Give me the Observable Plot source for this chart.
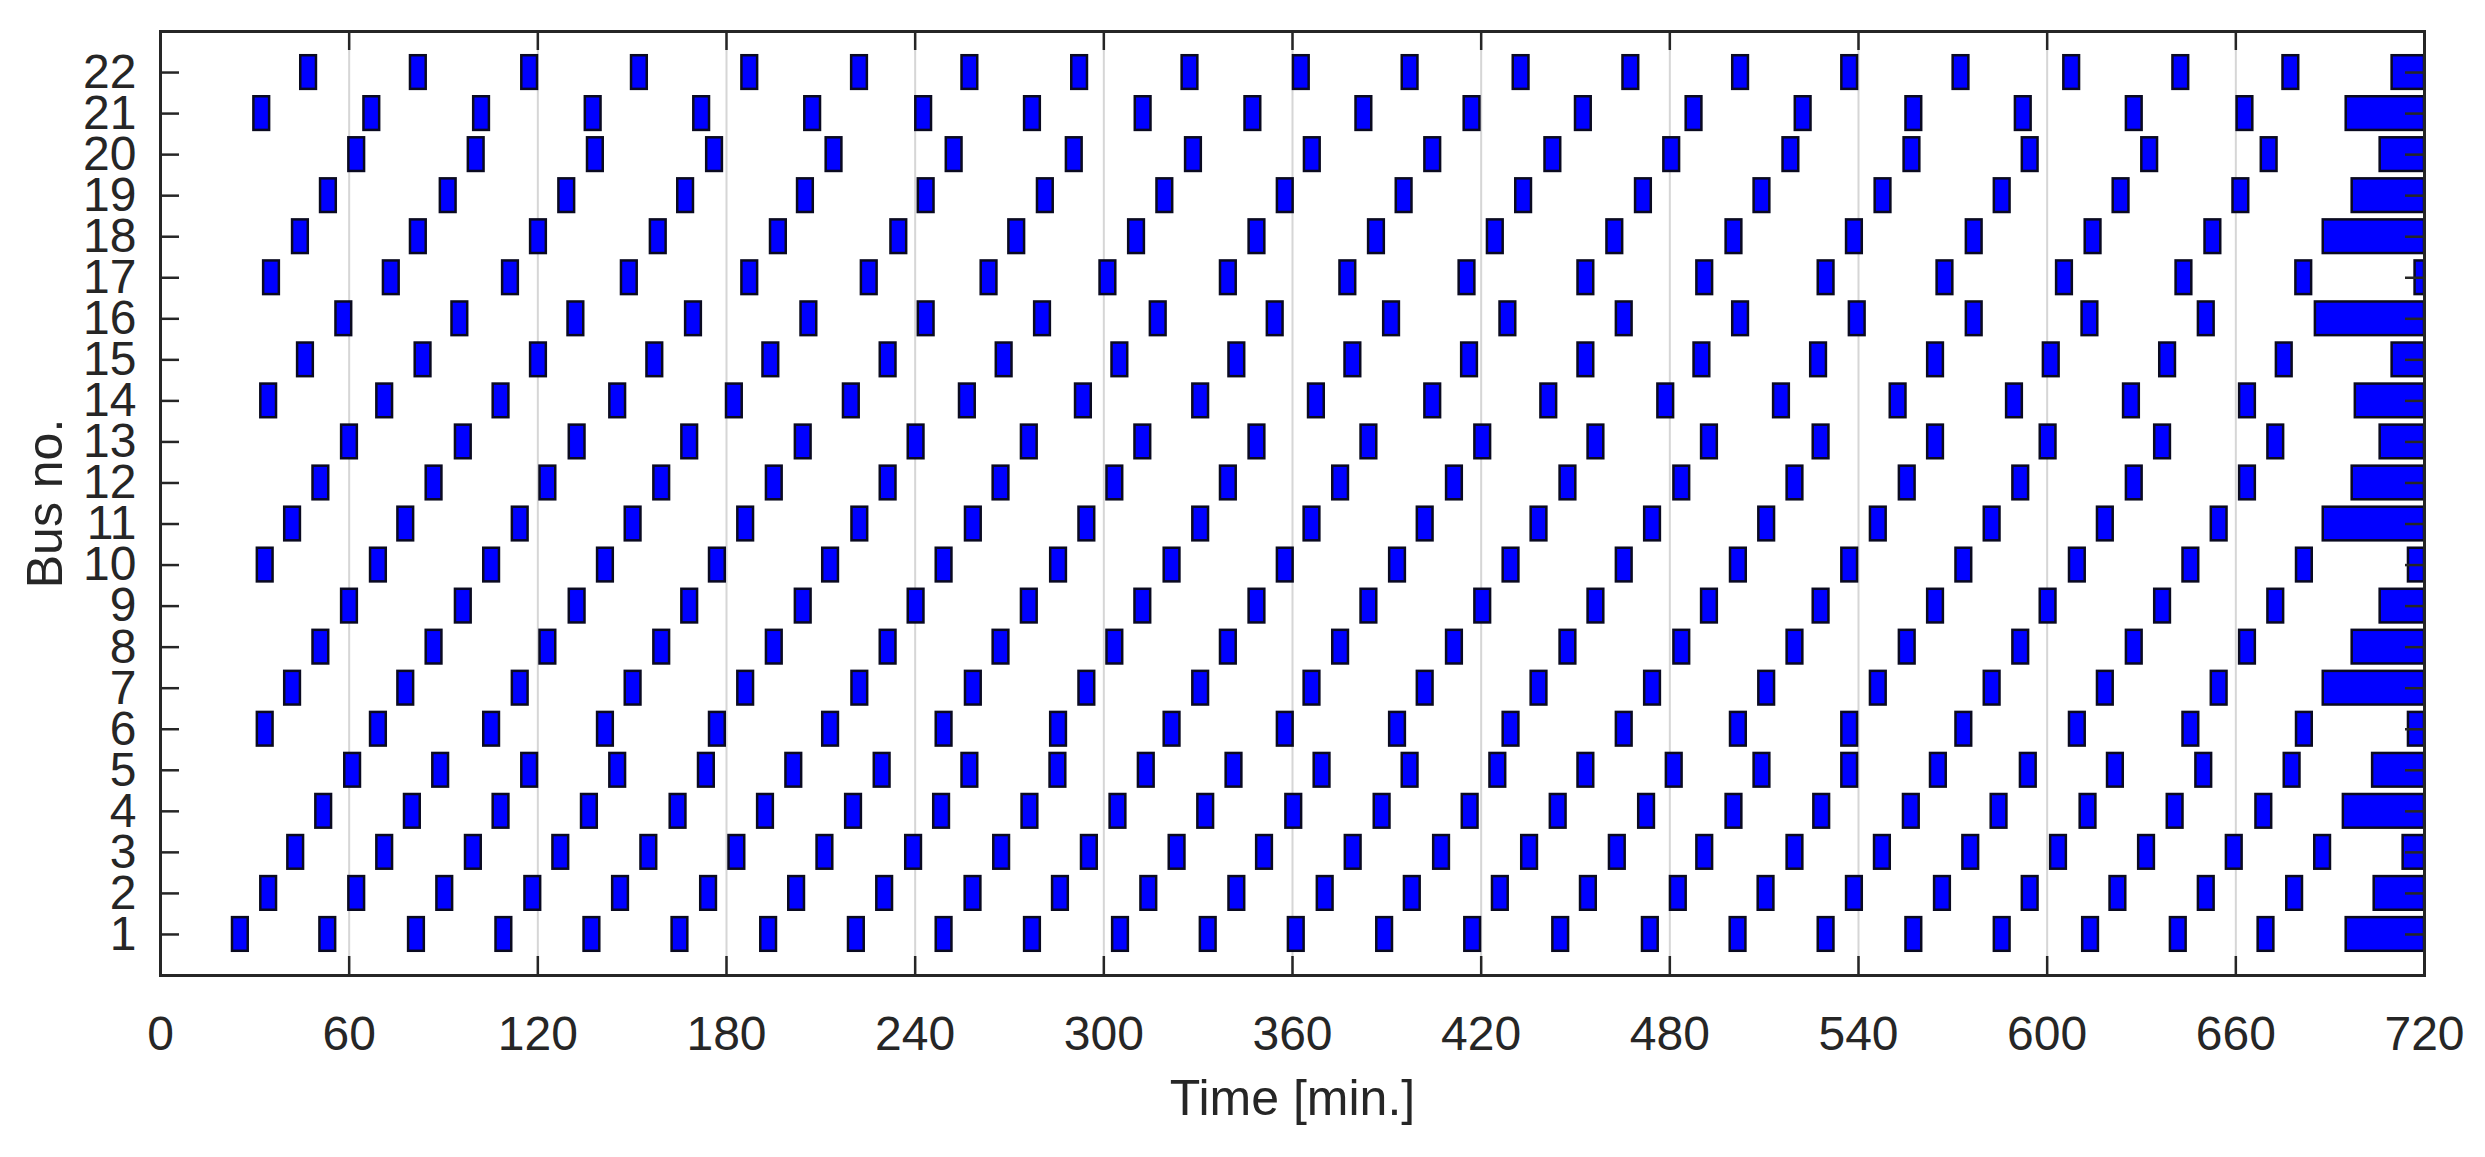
<!DOCTYPE html>
<html>
<head>
<meta charset="utf-8">
<script src="https://cdn.jsdelivr.net/npm/d3@7"></script>
<script src="https://cdn.jsdelivr.net/npm/@observablehq/plot@0.6"></script>
<style>
  html, body { margin: 0; padding: 0; background: #ffffff; }
  svg { display: block; }
</style>
</head>
<body>
<script>
// Bus numbers (categories) and tick labels
const busNos = d3.range(1, 23);
const xTicks = [0, 60, 120, 180, 240, 300, 360, 420, 480, 540, 600, 660, 720];
const gridTicks = [60, 120, 180, 240, 300, 360, 420, 480, 540, 600, 660];

// Stop times (bar centres, minutes) for every bus
const bus1 = [25.4, 53.2, 81.4, 109.2, 137.2, 165.2, 193.4, 221.3, 249.2, 277.3, 305.3, 333.2, 361.2, 389.3, 417.3, 445.3, 473.8, 501.7, 529.7, 557.6, 585.7, 613.8, 641.7, 669.6];
const bus2 = [34.4, 62.4, 90.4, 118.4, 146.3, 174.3, 202.3, 230.3, 258.4, 286.2, 314.3, 342.3, 370.4, 398.1, 426.1, 454.1, 482.7, 510.6, 538.7, 566.7, 594.6, 622.5, 650.6, 678.7];
const bus3 = [43.0, 71.3, 99.5, 127.3, 155.3, 183.3, 211.3, 239.5, 267.5, 295.4, 323.3, 351.1, 379.3, 407.4, 435.4, 463.3, 491.1, 519.8, 547.6, 575.7, 603.6, 631.6, 659.5, 687.6];
const bus4 = [51.9, 80.1, 108.3, 136.4, 164.6, 192.4, 220.4, 248.4, 276.5, 304.5, 332.4, 360.4, 388.5, 416.5, 444.5, 472.6, 500.4, 528.3, 556.8, 584.7, 613.0, 640.7, 668.9];
const bus5 = [61.1, 89.1, 117.4, 145.4, 173.6, 201.4, 229.5, 257.4, 285.4, 313.5, 341.4, 369.4, 397.4, 425.3, 453.3, 481.4, 509.3, 537.2, 565.4, 594.0, 621.7, 649.8, 677.9];
const bus6 = [33.3, 69.3, 105.3, 141.5, 177.1, 213.1, 249.2, 285.6, 321.7, 357.7, 393.4, 429.5, 465.5, 501.8, 537.2, 573.5, 609.6, 645.7, 681.8];
const bus7 = [42.0, 78.0, 114.4, 150.3, 186.1, 222.4, 258.5, 294.6, 330.8, 366.2, 402.2, 438.4, 474.5, 510.8, 546.3, 582.5, 618.5, 654.7];
const bus8 = [51.0, 87.0, 123.2, 159.4, 195.2, 231.4, 267.3, 303.5, 339.6, 375.3, 411.5, 447.6, 483.8, 519.8, 555.5, 591.6, 627.7, 663.7];
const bus9 = [60.1, 96.3, 132.5, 168.3, 204.4, 240.3, 276.3, 312.4, 348.7, 384.3, 420.5, 456.5, 492.6, 528.1, 564.5, 600.3, 636.7, 672.7];
const bus10 = [33.3, 69.3, 105.3, 141.5, 177.1, 213.1, 249.2, 285.6, 321.7, 357.7, 393.4, 429.5, 465.5, 501.8, 537.2, 573.5, 609.6, 645.7, 681.8];
const bus11 = [42.0, 78.0, 114.4, 150.3, 186.1, 222.4, 258.5, 294.6, 330.8, 366.2, 402.2, 438.4, 474.5, 510.8, 546.3, 582.5, 618.5, 654.7];
const bus12 = [51.0, 87.0, 123.2, 159.4, 195.2, 231.4, 267.3, 303.5, 339.6, 375.3, 411.5, 447.6, 483.8, 519.8, 555.5, 591.6, 627.7, 663.7];
const bus13 = [60.1, 96.3, 132.5, 168.3, 204.4, 240.3, 276.3, 312.4, 348.7, 384.3, 420.5, 456.5, 492.6, 528.1, 564.5, 600.3, 636.7, 672.7];
const bus14 = [34.4, 71.3, 108.3, 145.4, 182.5, 219.7, 256.6, 293.5, 330.8, 367.6, 404.6, 441.5, 478.7, 515.5, 552.6, 589.6, 626.8, 663.7];
const bus15 = [46.1, 83.5, 120.2, 157.2, 194.1, 231.4, 268.3, 305.1, 342.3, 379.2, 416.3, 453.3, 490.2, 527.3, 564.5, 601.3, 638.3, 675.4];
const bus16 = [58.3, 95.2, 132.1, 169.5, 206.2, 243.5, 280.5, 317.3, 354.5, 391.5, 428.5, 465.5, 502.5, 539.6, 576.8, 613.6, 650.6];
const bus17 = [35.3, 73.4, 111.3, 149.1, 187.4, 225.4, 263.5, 301.3, 339.6, 377.6, 415.5, 453.3, 491.1, 529.7, 567.5, 605.5, 643.5, 681.6];
const bus18 = [44.5, 82.0, 120.2, 158.3, 196.5, 234.8, 272.3, 310.4, 348.7, 386.7, 424.5, 462.5, 500.4, 538.7, 576.8, 614.6, 652.7];
const bus19 = [53.4, 91.5, 129.2, 167.0, 205.1, 243.5, 281.4, 319.4, 357.7, 395.5, 433.5, 471.6, 509.3, 547.8, 585.7, 623.5, 661.6];
const bus20 = [62.4, 100.4, 138.3, 176.2, 214.2, 252.4, 290.6, 328.5, 366.3, 404.6, 442.8, 480.6, 518.5, 557.0, 594.6, 632.6, 670.6];
const bus21 = [32.2, 67.2, 102.1, 137.6, 172.1, 207.4, 242.7, 277.3, 312.5, 347.4, 382.7, 417.1, 452.5, 487.7, 522.4, 557.6, 592.4, 627.7, 662.9];
const bus22 = [47.1, 82.0, 117.4, 152.3, 187.4, 222.3, 257.4, 292.3, 327.4, 362.8, 397.4, 432.7, 467.6, 502.5, 537.2, 572.6, 607.8, 642.5, 677.5];

// Start of the last (open-ended) stop of each bus, bus 1..22; it lasts until 720
const lastStart = [695.1, 704.0, 713.2, 694.2, 703.5, 714.9, 687.8, 697.0, 705.9, 714.9, 687.8, 697.0, 705.9, 698.0, 709.7, 685.3, 717.0, 687.8, 697.0, 705.9, 695.1, 709.7];
const endTime = 720;
const stopLength = 5; // minutes

const allBuses = [bus1, bus2, bus3, bus4, bus5, bus6, bus7, bus8, bus9, bus10, bus11,
  bus12, bus13, bus14, bus15, bus16, bus17, bus18, bus19, bus20, bus21, bus22];

const stops = allBuses.flatMap((arr, i) => arr.map(t => ({bus: busNos[i], start: t - stopLength / 2, end: t + stopLength / 2})));
const lastStops = lastStart.map((t, i) => ({bus: busNos[i], start: t, end: endTime}));

const W = 2485, H = 1157;
const mL = 160, mR = 61, mT = 31, mB = 182;
const innerW = W - mL - mR, innerH = H - mT - mB;
const tickLen = 19;
const ink = "#262626";
const half = 0.41;
const font = "'Liberation Sans', Arial, Helvetica, sans-serif";

const chart = Plot.plot({
  width: W,
  height: H,
  marginLeft: mL,
  marginRight: mR,
  marginTop: mT,
  marginBottom: mB,
  style: {fontFamily: font, fontSize: "48px", color: ink, background: "#ffffff"},
  x: {domain: [0, 720], axis: null},
  y: {domain: [0, 23], axis: null},
  marks: [
    Plot.ruleX(gridTicks, {y1: 23, y2: 0, stroke: "#d6d6d6", strokeWidth: 2}),
    Plot.rect(stops, {x1: "start", x2: "end", y1: d => d.bus - half, y2: d => d.bus + half, fill: "#0000ff", stroke: "#0a0a20", strokeWidth: 2.5}),
    Plot.rect(lastStops, {x1: "start", x2: "end", y1: d => d.bus - half, y2: d => d.bus + half, fill: "#0000ff", stroke: "#0a0a20", strokeWidth: 2.5}),
    // inward ticks, bottom and top
    Plot.ruleX(xTicks, {y1: 23, y2: 0, insetTop: innerH - tickLen, stroke: ink, strokeWidth: 2.5}),
    Plot.ruleX(xTicks, {y1: 23, y2: 0, insetBottom: innerH - tickLen, stroke: ink, strokeWidth: 2.5}),
    // inward ticks, left and right
    Plot.ruleY(busNos, {x1: 0, x2: 720, insetRight: innerW - tickLen, stroke: ink, strokeWidth: 2.5}),
    Plot.ruleY(busNos, {x1: 0, x2: 720, insetLeft: innerW - tickLen, stroke: ink, strokeWidth: 2.5}),
    Plot.frame({stroke: ink, strokeWidth: 3}),
    // tick labels
    Plot.text(xTicks, {x: d => d, frameAnchor: "bottom", lineAnchor: "top", textAnchor: "middle", dy: 40, text: d => String(d), fontSize: 48, fill: ink}),
    Plot.text(busNos, {y: d => d, frameAnchor: "left", lineAnchor: "middle", textAnchor: "end", dx: -24, text: d => String(d), fontSize: 48, fill: ink}),
    // axis titles
    Plot.text(["Time [min.]"], {frameAnchor: "bottom", lineAnchor: "middle", textAnchor: "middle", dy: 123, fontSize: 50, fill: ink}),
    Plot.text(["Bus no."], {frameAnchor: "left", lineAnchor: "middle", textAnchor: "middle", dx: -115, rotate: -90, fontSize: 50, fill: ink})
  ]
});

document.body.appendChild(chart);
</script>
</body>
</html>
